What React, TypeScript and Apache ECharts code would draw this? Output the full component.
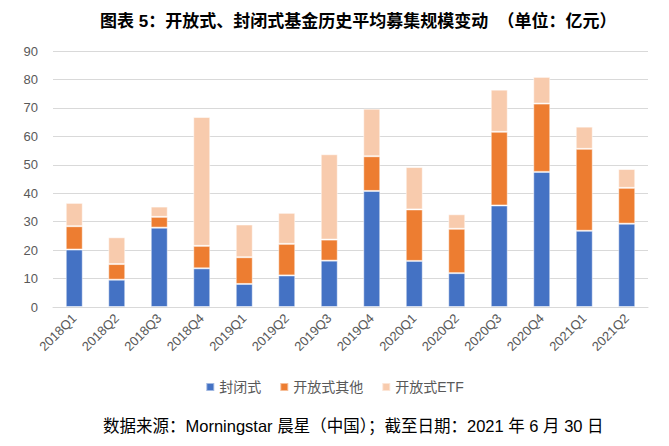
import React, { useEffect, useRef } from "react";
import * as echarts from "echarts";

const categories = ["2018Q1","2018Q2","2018Q3","2018Q4","2019Q1","2019Q2","2019Q3","2019Q4","2020Q1","2020Q2","2020Q3","2020Q4","2021Q1","2021Q2"];
const closedFund = [20.2, 9.6, 27.9, 13.6, 8.1, 11.1, 16.3, 40.8, 16.2, 11.9, 35.7, 47.5, 26.8, 29.3];
const openOther = [8.2, 5.5, 3.8, 7.9, 9.4, 11.1, 7.4, 12.2, 18.1, 15.6, 25.9, 24.0, 28.8, 12.6];
const openETF = [8.2, 9.4, 3.6, 45.3, 11.5, 10.9, 30.0, 16.7, 14.9, 5.1, 14.8, 9.4, 7.8, 6.6];
const seriesNames = ["封闭式", "开放式其他", "开放式ETF"];

const titleText = "图表 5：开放式、封闭式基金历史平均募集规模变动  （单位：亿元）";
const footerText = "数据来源：Morningstar 晨星（中国）；截至日期：2021 年 6 月 30 日";

export default function App() {
  const ref = useRef<HTMLDivElement>(null);
  useEffect(() => {
    if (!ref.current) return;
    const chart = echarts.init(ref.current, null, { renderer: "svg" });
    const font = "'Liberation Sans', Arial, 'Noto Sans CJK SC', sans-serif";
    const barBase = {
      type: "bar" as const,
      stack: "total",
      barWidth: "40%",
      itemStyle: { borderColor: "rgba(255,255,255,0.5)", borderWidth: 1 },
    };
    chart.setOption({
      animation: false,
      textStyle: { fontFamily: font },
      title: {
        text: titleText,
        left: 95,
        top: 8,
        textStyle: { fontSize: 17, fontWeight: "bold", color: "#000", fontFamily: font },
      },
      graphic: [
        {
          type: "text",
          left: 103,
          top: 418,
          style: { text: footerText, fill: "#000", font: `16.5px ${font}` },
        },
      ],
      legend: {
        data: seriesNames,
        top: 375,
        left: "center",
        itemWidth: 8,
        itemHeight: 8,
        itemGap: 18,
        icon: "rect",
        textStyle: { fontSize: 14, color: "#595959", fontFamily: font },
      },
      grid: { left: 53, right: 21, top: 51, bottom: 139, containLabel: false },
      xAxis: {
        type: "category",
        data: categories,
        axisLine: { show: true, lineStyle: { color: "#d9d9d9" } },
        axisTick: { show: false },
        axisLabel: { rotate: 45, color: "#595959", fontSize: 13, margin: 9, interval: 0 },
      },
      yAxis: {
        type: "value",
        min: 0,
        max: 90,
        interval: 10,
        axisLine: { show: false },
        axisTick: { show: false },
        splitLine: { lineStyle: { color: "#d9d9d9", width: 1 } },
        axisLabel: { color: "#595959", fontSize: 13, margin: 15 },
      },
      series: [
        { ...barBase, name: seriesNames[0], data: closedFund, color: "#4472C4" },
        { ...barBase, name: seriesNames[1], data: openOther, color: "#ED7D31" },
        { ...barBase, name: seriesNames[2], data: openETF, color: "#F8CBAD" },
      ],
    });
    return () => chart.dispose();
  }, []);
  return (
    <div
      ref={ref}
      style={{ position: "fixed", left: 0, top: 0, width: 669, height: 446, background: "#fff" }}
    />
  );
}
